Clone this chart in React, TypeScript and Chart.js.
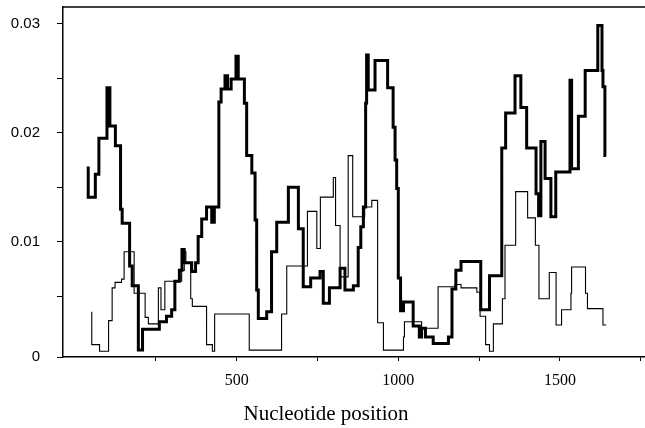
import React, { useEffect, useRef } from "react";
import { Chart, registerables } from "chart.js";
Chart.register(...registerables);

// thick series (step starts): nucleotide position / value
const thickX = [41, 63, 74, 99, 108, 125, 141, 146, 169, 177, 196, 209, 261, 283, 299, 309, 323, 331, 338, 361, 373, 381, 392, 407, 423, 431, 445, 452, 464, 472, 483, 498, 505, 524, 531, 547, 557, 562, 567, 593, 608, 624, 660, 691, 706, 729, 758, 768, 787, 820, 835, 861, 876, 884, 892, 899, 902, 907, 928, 967, 984, 990, 995, 1000, 1007, 1016, 1046, 1065, 1072, 1084, 1108, 1155, 1166, 1178, 1194, 1255, 1282, 1320, 1332, 1361, 1379, 1397, 1426, 1434, 1441, 1454, 1472, 1487, 1531, 1536, 1557, 1578, 1617, 1630, 1633, 1639, 1643];
const thickY = [0.0169, 0.0141, 0.0162, 0.0195, 0.0241, 0.0206, 0.0188, 0.0130, 0.0117, 0.0078, 0.0060, 0.0001, 0.0020, 0.0027, 0.0032, 0.0038, 0.0064, 0.0074, 0.0093, 0.0081, 0.0073, 0.0081, 0.0105, 0.0121, 0.0132, 0.0118, 0.0132, 0.0228, 0.0240, 0.0252, 0.0240, 0.0249, 0.0270, 0.0249, 0.0227, 0.0179, 0.0163, 0.0120, 0.0056, 0.0030, 0.0036, 0.0091, 0.0118, 0.0150, 0.0112, 0.0059, 0.0067, 0.0073, 0.0044, 0.0058, 0.0076, 0.0056, 0.0060, 0.0095, 0.0114, 0.0132, 0.0227, 0.0271, 0.0239, 0.0266, 0.0241, 0.0205, 0.0175, 0.0149, 0.0067, 0.0037, 0.0045, 0.0023, 0.0013, 0.0021, 0.0013, 0.0007, 0.0013, 0.0057, 0.0074, 0.0082, 0.0038, 0.0069, 0.0186, 0.0218, 0.0252, 0.0223, 0.0186, 0.0144, 0.0124, 0.0192, 0.0158, 0.0123, 0.0164, 0.0248, 0.0167, 0.0215, 0.0257, 0.0298, 0.0257, 0.0242, 0.0179];

// thin series (step starts)
const thinX = [52, 76, 104, 115, 124, 144, 152, 183, 217, 227, 258, 266, 278, 330, 338, 343, 358, 363, 407, 425, 432, 539, 639, 655, 719, 748, 759, 799, 806, 820, 845, 859, 896, 918, 936, 954, 1016, 1019, 1072, 1123, 1175, 1194, 1243, 1253, 1270, 1282, 1294, 1322, 1330, 1363, 1400, 1424, 1435, 1467, 1488, 1505, 1534, 1536, 1579, 1585, 1633, 1641, 1643];
const thinY = [0.0036, 0.0006, 0, 0.0028, 0.0058, 0.0063, 0.0066, 0.0091, 0.0053, 0.0031, 0.0025, 0.0058, 0.0038, 0.0064, 0.0074, 0.0091, 0.0081, 0.0048, 0.0041, 0.0006, 0, 0.0034, 0.0001, 0.0034, 0.0078, 0.0128, 0.0094, 0.0141, 0.0159, 0.0115, 0.0068, 0.0179, 0.0123, 0.0132, 0.0138, 0.0026, 0.0001, 0.0013, 0.0027, 0.0021, 0.0059, 0.0061, 0.0058, 0.0054, 0.0032, 0.0006, 0, 0.0025, 0.0048, 0.0097, 0.0146, 0.0122, 0.0097, 0.0048, 0.0072, 0.0024, 0.0038, 0.0053, 0.0077, 0.0053, 0.0039, 0.0024, 0.0024];

const xTickValues = [250, 500, 750, 1000, 1250, 1500, 1750];
const xTickLabels = ["", "500", "", "1000", "", "1500", ""];
const yTickValues = [-0.00053, 0.005, 0.01, 0.015, 0.02, 0.025, 0.03];
const yTickLabels = ["0", "", "0.01", "", "0.02", "", "0.03"];
const xTitle = "Nucleotide position";

export default function App() {
  const ref = useRef<HTMLCanvasElement>(null);
  useEffect(() => {
    document.body.style.margin = "0";
    const framePlugin = {
      id: "frame",
      afterDraw(chart: any) {
        const { ctx, chartArea } = chart;
        ctx.save();
        ctx.strokeStyle = "#000";
        ctx.lineWidth = 1.5;
        ctx.beginPath();
        ctx.moveTo(chartArea.left, chartArea.top);
        ctx.lineTo(chart.width, chartArea.top);
        ctx.stroke();
        ctx.font = '21px "Liberation Serif"';
        ctx.fillStyle = "#000";
        ctx.textAlign = "center";
        ctx.textBaseline = "alphabetic";
        ctx.fillText(xTitle, 326, 420);
        ctx.restore();
      },
    };
    const chart = new Chart(ref.current as HTMLCanvasElement, {
      type: "line",
      data: {
        datasets: [
          {
            data: thinX.map((x, i) => ({ x, y: thinY[i] })),
            borderColor: "#000",
            borderWidth: 1.1,
            stepped: "after",
            pointRadius: 0,
            fill: false,
            borderJoinStyle: "miter",
          },
          {
            data: thickX.map((x, i) => ({ x, y: thickY[i] })),
            borderColor: "#000",
            borderWidth: 3,
            stepped: "after",
            pointRadius: 0,
            fill: false,
            borderJoinStyle: "miter",
          },
        ],
      },
      options: {
        animation: false,
        responsive: false,
        events: [],
        layout: { padding: { top: 7, left: 0, right: 0, bottom: 0 } },
        plugins: { legend: { display: false }, tooltip: { enabled: false }, title: { display: false } },
        scales: {
          x: {
            type: "linear",
            min: -37,
            max: 1763,
            afterFit: (s: any) => { s.height = 71; s.paddingLeft = 0; s.paddingRight = 0; },
            afterBuildTicks: (s: any) => { s.ticks = xTickValues.map((v) => ({ value: v })); },
            ticks: {
              autoSkip: false,
              maxRotation: 0,
              padding: 10,
              color: "#000",
              font: { family: "Liberation Serif", size: 16 },
              callback: (_v: any, i: number) => xTickLabels[i],
            },
            grid: { drawOnChartArea: false, drawTicks: true, tickLength: 4, color: "#000", tickColor: "#000", lineWidth: 1 },
            border: { display: true, color: "#000", width: 1.5 },
          },
          y: {
            type: "linear",
            min: -0.00053,
            max: 0.0315,
            afterFit: (s: any) => { s.width = 63; s.paddingTop = 0; s.paddingBottom = 0; },
            afterBuildTicks: (s: any) => { s.ticks = yTickValues.map((v) => ({ value: v })); },
            ticks: {
              autoSkip: false,
              padding: 17,
              color: "#000",
              font: { family: "Liberation Sans", size: 15 },
              callback: (_v: any, i: number) => yTickLabels[i],
            },
            grid: { drawOnChartArea: false, drawTicks: true, tickLength: 6, color: "#000", tickColor: "#000", lineWidth: 1 },
            border: { display: true, color: "#000", width: 1.5 },
          },
        },
      },
      plugins: [framePlugin],
    } as any);
    return () => chart.destroy();
  }, []);
  return (
    <div style={{ width: 645, height: 428 }}>
      <canvas ref={ref} width={645} height={428} style={{ display: "block" }} />
    </div>
  );
}
